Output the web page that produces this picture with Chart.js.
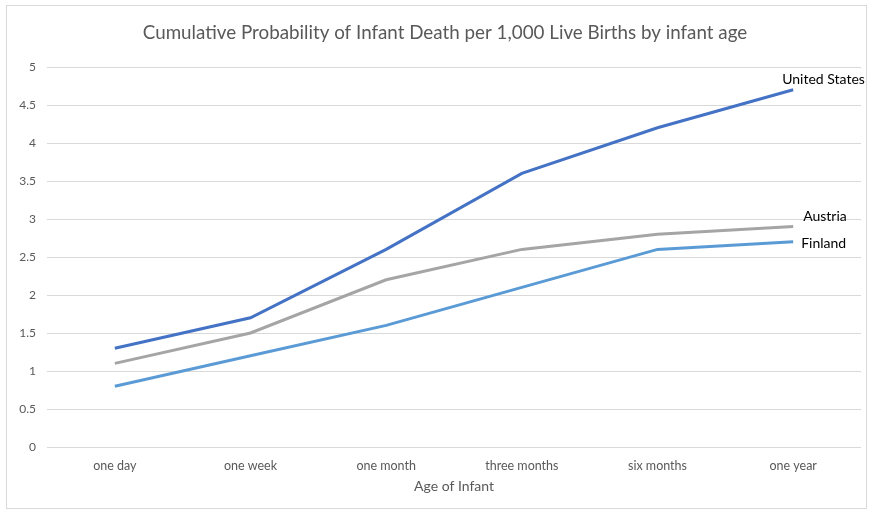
<!DOCTYPE html>
<html lang="en">
<head>
    <meta charset="UTF-8">
    <title>Cumulative Probability of Infant Death</title>
    <script src="https://cdn.jsdelivr.net/npm/chart.js@4.4.1/dist/chart.umd.min.js"></script>
    <style>
        body {
            margin: 0;
            background: #fff;
        }
        #frame {
            position: absolute;
            left: 6px;
            top: 5px;
            width: 859px;
            height: 502px;
            border: 1px solid #d9d9d9;
        }
        #wrap {
            position: absolute;
            left: 0;
            top: 0;
            width: 870px;
            height: 512px;
        }
    </style>
</head>
<body>
    <div id="frame"></div>
    <div id="wrap"><canvas id="chart" width="870" height="512"></canvas></div>

    <script>
        const ages = ['one day', 'one week', 'one month', 'three months', 'six months', 'one year'];
        const unitedStates = [1.3, 1.7, 2.6, 3.6, 4.2, 4.7];
        const austria = [1.1, 1.5, 2.2, 2.6, 2.8, 2.9];
        const finland = [0.8, 1.2, 1.6, 2.1, 2.6, 2.7];
        const seriesNames = ['United States', 'Austria', 'Finland'];
        const chartTitle = 'Cumulative Probability of Infant Death per 1,000 Live Births by infant age';

        const FONT = 'Lato, "Open Sans", sans-serif';

        // title drawn by hand: the original sits a bit right of the canvas centre
        const titlePlugin = {
            id: 'titlePlugin',
            beforeDraw(chart) {
                const ctx = chart.ctx;
                ctx.save();
                ctx.font = '18.8px ' + FONT;
                ctx.fillStyle = '#595959';
                ctx.textAlign = 'center';
                ctx.textBaseline = 'middle';
                ctx.fillText(chartTitle, chart.width / 2 + 10, 33);
                ctx.restore();
            }
        };

        // labels at the end of each line
        const endLabels = {
            id: 'endLabels',
            afterDatasetsDraw(chart) {
                const ctx = chart.ctx;
                const offsets = [[-11, -10], [10, -10], [8, 2]];
                ctx.save();
                ctx.font = '14px ' + FONT;
                ctx.fillStyle = '#000';
                ctx.textBaseline = 'middle';
                chart.data.datasets.forEach((ds, i) => {
                    const pt = chart.getDatasetMeta(i).data[ds.data.length - 1];
                    ctx.fillText(ds.label, pt.x + offsets[i][0], pt.y + offsets[i][1]);
                });
                ctx.restore();
            }
        };

        const ctx = document.getElementById('chart').getContext('2d');
        new Chart(ctx, {
            type: 'line',
            data: {
                labels: ages,
                datasets: [
                    { label: seriesNames[0], data: unitedStates, borderColor: '#4472C4' },
                    { label: seriesNames[1], data: austria, borderColor: '#A5A5A5' },
                    { label: seriesNames[2], data: finland, borderColor: '#5B9BD5' }
                ]
            },
            options: {
                responsive: false,
                animation: false,
                elements: {
                    line: { borderWidth: 3, tension: 0 },
                    point: { radius: 0 }
                },
                layout: { padding: { left: 10, right: 9, top: 67, bottom: 5 } },
                plugins: {
                    legend: { display: false },
                    tooltip: { enabled: false },
                    title: { display: false }
                },
                scales: {
                    x: {
                        offset: true,
                        grid: { display: false },
                        border: { display: false },
                        ticks: { color: '#595959', font: { family: FONT, size: 12.5 }, padding: 3, maxRotation: 0 },
                        title: {
                            display: true,
                            text: 'Age of Infant',
                            color: '#595959',
                            font: { family: FONT, size: 14 },
                            padding: { top: 4, bottom: 12 }
                        },
                        afterFit: (s) => { s.height = 60; }
                    },
                    y: {
                        min: 0,
                        max: 5,
                        ticks: {
                            stepSize: 0.5,
                            color: '#595959',
                            font: { family: FONT, size: 12 },
                            padding: 11,
                            callback: (v) => String(v)
                        },
                        grid: { color: '#d9d9d9', drawTicks: false },
                        border: { display: false },
                        afterFit: (s) => { s.width = 37; }
                    }
                }
            },
            plugins: [titlePlugin, endLabels]
        });
    </script>
</body>
</html>
